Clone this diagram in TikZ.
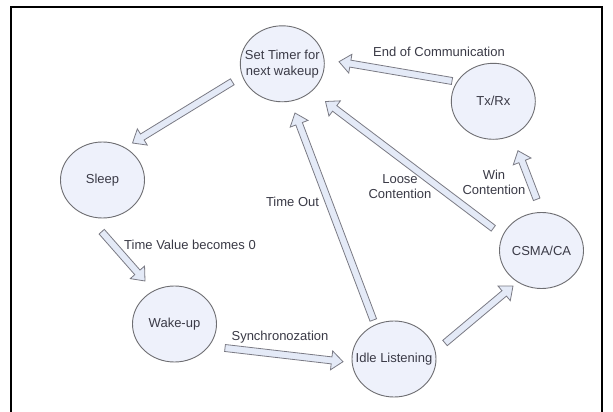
\documentclass[tikz,border=0pt]{standalone}
\usepackage{fontspec}
\setmainfont{Liberation Sans}
\usetikzlibrary{shapes.geometric,calc}

\definecolor{statefill}{HTML}{EEF1FB}
\definecolor{stateline}{HTML}{6E6E72}
\definecolor{arrowfill}{HTML}{E4EAF7}
\definecolor{arrowline}{HTML}{7A7A84}
\definecolor{labeltext}{HTML}{3A3A46}

\tikzset{
  state/.style={ellipse, draw=stateline, fill=statefill, line width=0.9pt,
    minimum width=84pt, minimum height=76pt, inner sep=0pt, align=center,
    text=labeltext, font=\fontsize{13}{16}\selectfont},
  lbl/.style={align=center, text=labeltext, inner sep=0pt,
    font=\fontsize{13}{15}\selectfont},
  blockarrow/.style={draw=arrowline, fill=arrowfill, line width=0.8pt, line join=miter},
  frameline/.style={line width=2.2pt, black},
}

% hollow block arrow between two named coordinates
\newcommand\hollowarrow[2]{%
  \coordinate (ha-s) at (#1);
  \coordinate (ha-e) at (#2);
  \coordinate (ha-h) at ($(ha-e)!11.5pt!(ha-s)$);
  \draw[blockarrow]
    ($(ha-s)!3.5pt!90:(ha-e)$) -- ($(ha-h)!3.5pt!90:(ha-e)$) --
    ($(ha-h)!9.5pt!90:(ha-e)$) -- (ha-e) --
    ($(ha-h)!9.5pt!-90:(ha-e)$) -- ($(ha-h)!3.5pt!-90:(ha-e)$) --
    ($(ha-s)!3.5pt!-90:(ha-e)$) -- cycle;
}

\begin{document}
\begin{tikzpicture}[x=1pt,y=-1pt]
  \useasboundingbox (0,0) rectangle (613,412);
  \fill[white] (0,0) rectangle (613,412);

  % outer frame
  \draw[frameline] (11,412) -- (11,7) -- (602,7) -- (602,412);

  % states
  \node[state] (settimer) at (282.3,63.8) {\makebox[0pt]{Set Timer for}\\\makebox[0pt]{next wakeup}};
  \node[state] (txrx)     at (493.3,101.3) {\makebox[0pt]{Tx/Rx}};
  \node[state] (sleep)    at (102.5,180)   {\makebox[0pt]{Sleep}};
  \node[state] (csma)     at (541.5,250.5) {\makebox[0pt]{CSMA/CA}};
  \node[state] (wakeup)   at (174.5,324)   {\makebox[0pt]{Wake-up}};
  \node[state] (idle)     at (394,359)     {\makebox[0pt]{Idle Listening}};

  % connector end points
  \coordinate (st-to-sleep)  at ($(settimer)+(-50,18)$);
  \coordinate (sleep-in)     at ($(sleep)+(30,-37)$);
  \coordinate (sleep-out)    at ($(sleep)+(-0.8,51.7)$);
  \coordinate (wake-in)      at ($(wakeup)+(-29.5,-43)$);
  \coordinate (wake-out)     at ($(wakeup)+(50.5,24)$);
  \coordinate (idle-in)      at ($(idle)+(-51,2.7)$);
  \coordinate (idle-up)      at ($(idle)+(-20.7,-39)$);
  \coordinate (st-in-idle)   at ($(settimer)+(12.7,49.2)$);
  \coordinate (idle-right)   at ($(idle)+(51,-16)$);
  \coordinate (csma-in)      at ($(csma)+(-28.5,35.5)$);
  \coordinate (csma-left)    at ($(csma)+(-48.2,-22.2)$);
  \coordinate (st-in-csma)   at ($(settimer)+(43.2,37.7)$);
  \coordinate (csma-up)      at ($(csma)+(-4.8,-51.2)$);
  \coordinate (txrx-in)      at ($(txrx)+(24.7,49.4)$);
  \coordinate (txrx-out)     at ($(txrx)+(-41.3,-20.3)$);
  \coordinate (st-in-txrx)   at ($(settimer)+(56.7,-2.1)$);

  % transitions
  \hollowarrow{st-to-sleep}{sleep-in}
  \hollowarrow{sleep-out}{wake-in}
  \hollowarrow{wake-out}{idle-in}
  \hollowarrow{idle-up}{st-in-idle}
  \hollowarrow{idle-right}{csma-in}
  \hollowarrow{csma-left}{st-in-csma}
  \hollowarrow{csma-up}{txrx-in}
  \hollowarrow{txrx-out}{st-in-txrx}

  % transition labels
  \node[lbl] (lbl-end)     at (439,51.7)   {End of Communication};
  \node[lbl] (lbl-time0)   at (190,245)    {Time Value becomes 0};
  \node[lbl] (lbl-timeout) at (292.5,201.7) {Time Out};
  \node[lbl] (lbl-sync)    at (280,336.7)  {Synchronozation};
  \node[lbl] (lbl-loose)   at (400,187)    {Loose\\Contention};
  \node[lbl] (lbl-win)     at (494,182.5)  {Win\\Contention};
\end{tikzpicture}
\end{document}
